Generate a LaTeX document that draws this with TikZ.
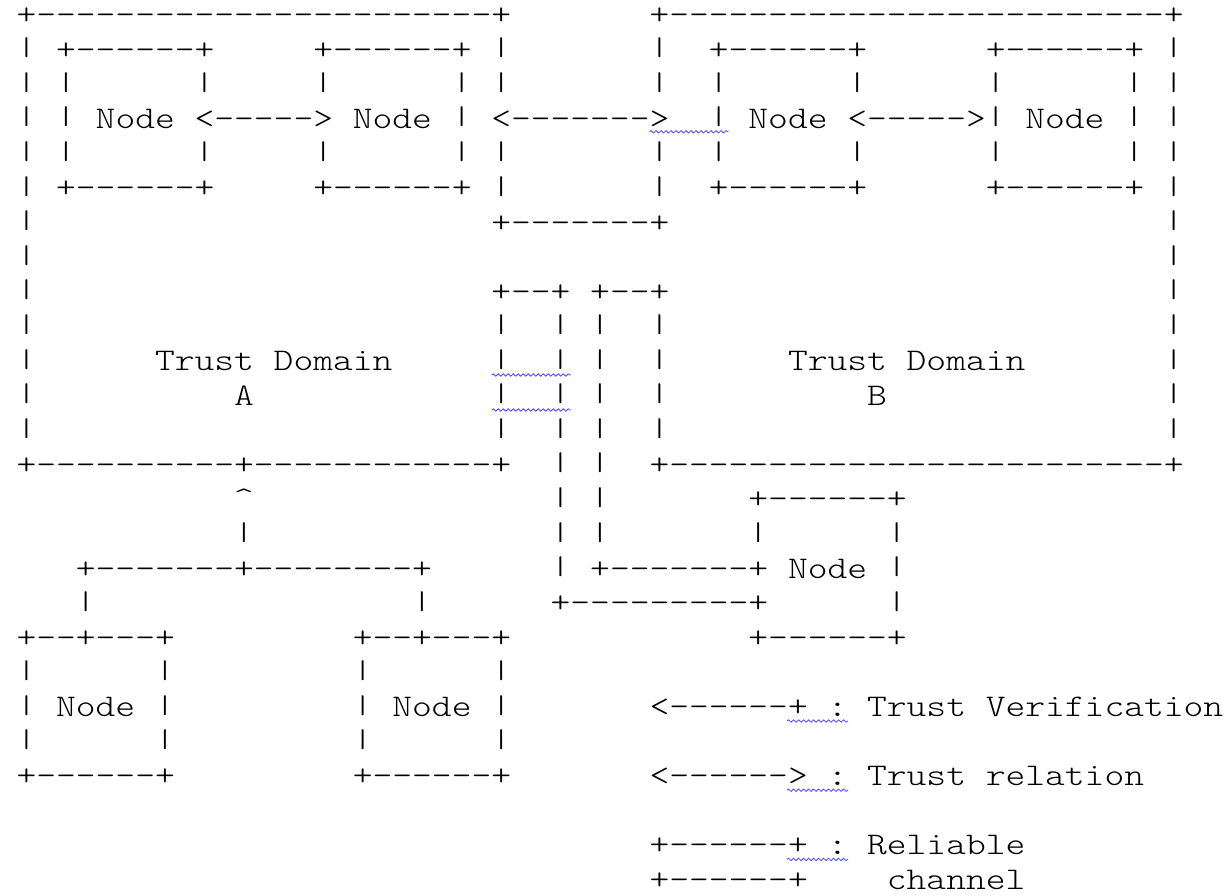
\documentclass[tikz,border=0pt]{standalone}
\usepackage{fontspec}
\usepackage{graphicx}
\setmonofont{lmmonolt10-regular.otf}[FakeStretch=1.196]
\usetikzlibrary{decorations.pathmorphing}
\newcounter{glyphrun}
\tikzset{
  glyphs/.style={anchor=base west, inner sep=0pt, outer sep=0pt,
    font=\ttfamily\fontsize{31.5}{34.6}\selectfont, text=black},
  squiggle/.style={draw=blue!70, line width=0.8pt, decorate,
    decoration={snake, amplitude=1.2pt, segment length=5pt}},
}
% a shorter vertical bar, so that bars in successive rows keep a gap
\newcommand\wb{\raisebox{3.4pt}{\scalebox{1}[0.81]{|}}}
% a run of monospaced text whose first character sits in column #1 of text row #2
\newcommand\run[3]{\stepcounter{glyphrun}%
  \node[glyphs] (g\theglyphrun) at ({16.6+19.78*#1},{-24.5-34.6*#2}) {#3};}
% the two domain walls and the two channel walls in rows 9--12
\newcommand\wallrow[1]{\run{0}{#1}{\wb}\run{24}{#1}{\wb}\run{27}{#1}{\wb}\run{29}{#1}{\wb}\run{32}{#1}{\wb}\run{58}{#1}{\wb}}
% rows of the inner node boxes of both domains
\newcommand\boxedge[1]{\run{0}{#1}{\wb}\run{2}{#1}{+------+}\run{15}{#1}{+------+}\run{24}{#1}{\wb}%
  \run{32}{#1}{\wb}\run{35}{#1}{+------+}\run{49}{#1}{+------+}\run{58}{#1}{\wb}}
\newcommand\boxside[1]{\run{0}{#1}{\wb}\run{2}{#1}{\wb}\run{9}{#1}{\wb}\run{15}{#1}{\wb}\run{22}{#1}{\wb}\run{24}{#1}{\wb}%
  \run{32}{#1}{\wb}\run{35}{#1}{\wb}\run{42}{#1}{\wb}\run{49}{#1}{\wb}\run{56}{#1}{\wb}\run{58}{#1}{\wb}}
\newcommand\lowside[1]{\run{0}{#1}{\wb}\run{7}{#1}{\wb}\run{17}{#1}{\wb}\run{24}{#1}{\wb}}

\begin{document}
\begin{tikzpicture}[x=1pt,y=1pt]
\fill[white] (0,0) rectangle (1229,-896);
\useasboundingbox (0,0) rectangle (1229,-896);

% trust domains A and B with their inner nodes
\run{0}{0}{+-----------------------+}\run{32}{0}{+-------------------------+}
\boxedge{1}
\boxside{2}
\run{0}{3}{\wb}\run{2}{3}{\wb}\run{4}{3}{Node}\run{9}{3}{<----->}\run{17}{3}{Node}\run{22}{3}{\wb}
\run{24}{3}{<------->}\run{35}{3}{\wb}\run{37}{3}{Node}\run{42}{3}{<----->\wb}\run{51}{3}{Node}
\run{56}{3}{\wb}\run{58}{3}{\wb}
\boxside{4}
\boxedge{5}
\run{0}{6}{\wb}\run{24}{6}{+-------+}\run{58}{6}{\wb}
\run{0}{7}{\wb}\run{58}{7}{\wb}
\run{0}{8}{\wb}\run{24}{8}{+--+}\run{29}{8}{+--+}\run{58}{8}{\wb}
\wallrow{9}
\wallrow{10}
\run{7}{10}{Trust}\run{13}{10}{Domain}\run{39}{10}{Trust}\run{45}{10}{Domain}
\wallrow{11}
\run{11}{11}{A}\run{43}{11}{B}
\wallrow{12}
\run{0}{13}{+----------+------------+}\run{27}{13}{\wb}\run{29}{13}{\wb}
\run{32}{13}{+-------------------------+}

% attached nodes below the domains
\run{11}{14}{\textasciicircum}\run{27}{14}{\wb}\run{29}{14}{\wb}\run{37}{14}{+------+}
\run{11}{15}{\wb}\run{27}{15}{\wb}\run{29}{15}{\wb}\run{37}{15}{\wb}\run{44}{15}{\wb}
\run{3}{16}{+-------+--------+}\run{27}{16}{\wb}\run{29}{16}{+-------+}\run{39}{16}{Node}\run{44}{16}{\wb}
\run{3}{17}{\wb}\run{20}{17}{\wb}\run{27}{17}{+---------+}\run{44}{17}{\wb}
\run{0}{18}{+--+---+}\run{17}{18}{+--+---+}\run{37}{18}{+------+}
\lowside{19}
\lowside{20}
\run{2}{20}{Node}\run{19}{20}{Node}
\lowside{21}
\run{0}{22}{+------+}\run{17}{22}{+------+}

% legend
\run{32}{20}{<------+}\run{41}{20}{:}\run{43}{20}{Trust}\run{49}{20}{Verification}
\run{32}{22}{<------>}\run{41}{22}{:}\run{43}{22}{Trust}\run{49}{22}{relation}
\run{32}{24}{+------+}\run{41}{24}{:}\run{43}{24}{Reliable}
\run{32}{25}{+------+}\run{44}{25}{channel}

% spelling marks
\draw[squiggle] (649.5,-131.8) -- (728.6,-131.8);
\draw[squiggle] (491.7,-375) -- (570.7,-375);
\draw[squiggle] (491.7,-410) -- (570.7,-410);
\draw[squiggle] (787,-721) -- (848,-721);
\draw[squiggle] (787,-790.2) -- (848,-790.2);
\draw[squiggle] (787,-859.4) -- (848,-859.4);
\end{tikzpicture}
\end{document}
